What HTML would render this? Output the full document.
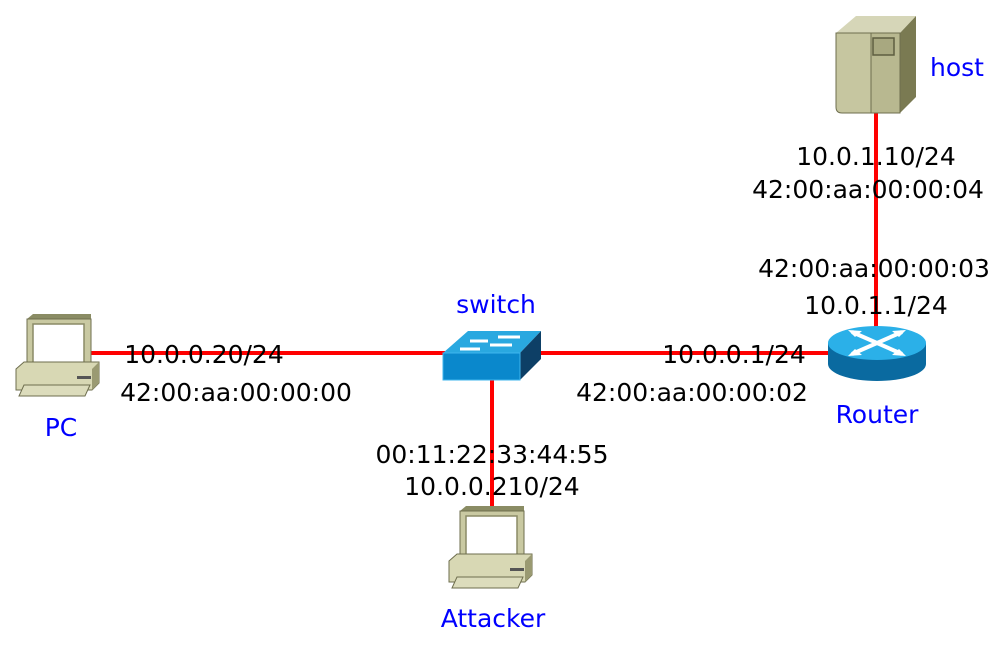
<!DOCTYPE html>
<html><head><meta charset="utf-8"><style>
html,body{margin:0;padding:0;background:#fff;}
svg{display:block;}
text{font-family:"DejaVu Sans","Liberation Sans",sans-serif;font-size:25px;}
.b{fill:#0000ff;font-size:25px;}
.k{fill:#000;}
</style></head><body>
<svg width="996" height="648" viewBox="0 0 996 648" xmlns="http://www.w3.org/2000/svg">
<defs>
<g id="pc">
  <path d="M12 6 L18 1 L76 1 L76 58 L71 63 Z" fill="#8a8c64"/>
  <rect x="12" y="6" width="64" height="58" fill="#c9c9a2" stroke="#6e6e4e" stroke-width="1"/>
  <rect x="18" y="11" width="51" height="46" fill="#fff" stroke="#8a8a66" stroke-width="1.5"/>
  <rect x="12" y="62" width="64" height="3" fill="#111"/>
  <path d="M1 56 L9 49 L84 49 L84 70 L77 77 L1 77 Z" fill="#d8d8b4" stroke="#6e6e4e" stroke-width="1"/>
  <path d="M77 56 L84 49 L84 70 L77 77 Z" fill="#9a9a72"/>
  <rect x="62" y="63" width="14" height="3" fill="#555"/>
  <path d="M9 72 L75 72 L70 83 L4 83 Z" fill="#dcdcbc" stroke="#6e6e4e" stroke-width="1"/>
</g>
</defs>

<line x1="88" y1="353" x2="445" y2="353" stroke="#ff0000" stroke-width="4"/>
<line x1="540" y1="353" x2="832" y2="353" stroke="#ff0000" stroke-width="4"/>
<line x1="492" y1="378" x2="492" y2="508" stroke="#ff0000" stroke-width="4"/>
<line x1="876" y1="110" x2="876" y2="330" stroke="#ff0000" stroke-width="4"/>

<use href="#pc" x="15" y="313"/>
<use href="#pc" x="448" y="505"/>

<path d="M443 353 L468 331 L541 331 L520 353 Z" fill="#29a8e0"/>
<path d="M520 353 L541 331 L541 359 L520 380 Z" fill="#0d3f66"/>
<rect x="443" y="353" width="77" height="27" fill="#0a88cc" stroke="#3fb6ee" stroke-width="1"/>
<g stroke="#fff" stroke-width="3" fill="none">
  <line x1="470" y1="341" x2="488" y2="341"/>
  <line x1="498" y1="337" x2="520" y2="337"/>
  <line x1="460" y1="349" x2="480" y2="349"/>
  <line x1="490" y1="345" x2="512" y2="345"/>
</g>

<path d="M828 343 L828 364 A49 17 0 0 0 926 364 L926 343 Z" fill="#0a6aa0"/>
<ellipse cx="877" cy="343" rx="49" ry="17" fill="#2bb0e8"/>
<g stroke="#fff" stroke-width="4" fill="none">
  <line x1="852" y1="332" x2="902" y2="354"/>
  <line x1="902" y1="332" x2="852" y2="354"/>
</g>
<g fill="#fff">
  <polygon points="848,330 862,331 855,337"/>
  <polygon points="906,330 892,331 899,337"/>
  <polygon points="848,356 862,355 855,349"/>
  <polygon points="906,356 892,355 899,349"/>
</g>

<path d="M836 33 L856 16 L916 16 L900 33 Z" fill="#d6d6b8"/>
<path d="M900 33 L916 16 L916 97 L900 113 Z" fill="#7a7a52"/>
<path d="M836 33 L871 33 L871 113 L842 113 Q836 113 836 107 Z" fill="#c6c6a0" stroke="#6e6e4e" stroke-width="1"/>
<rect x="871" y="33" width="29" height="80" fill="#b8b890" stroke="#6e6e4e" stroke-width="1"/>
<rect x="873" y="38" width="21" height="17" fill="#a8a880" stroke="#5e5e40" stroke-width="1.5"/>

<text class="b" x="61" y="436" text-anchor="middle">PC</text>
<text class="b" x="496" y="313" text-anchor="middle">switch</text>
<text class="b" x="877" y="423" text-anchor="middle">Router</text>
<text class="b" x="493" y="627" text-anchor="middle">Attacker</text>
<text class="b" x="930" y="76">host</text>

<text class="k" x="204" y="363" text-anchor="middle">10.0.0.20/24</text>
<text class="k" x="236" y="401" text-anchor="middle">42:00:aa:00:00:00</text>
<text class="k" x="734" y="363" text-anchor="middle">10.0.0.1/24</text>
<text class="k" x="692" y="401" text-anchor="middle">42:00:aa:00:00:02</text>
<text class="k" x="492" y="463" text-anchor="middle">00:11:22:33:44:55</text>
<text class="k" x="492" y="495" text-anchor="middle">10.0.0.210/24</text>
<text class="k" x="876" y="165" text-anchor="middle">10.0.1.10/24</text>
<text class="k" x="868" y="198" text-anchor="middle">42:00:aa:00:00:04</text>
<text class="k" x="874" y="277" text-anchor="middle">42:00:aa:00:00:03</text>
<text class="k" x="876" y="314" text-anchor="middle">10.0.1.1/24</text>
</svg>
</body></html>
